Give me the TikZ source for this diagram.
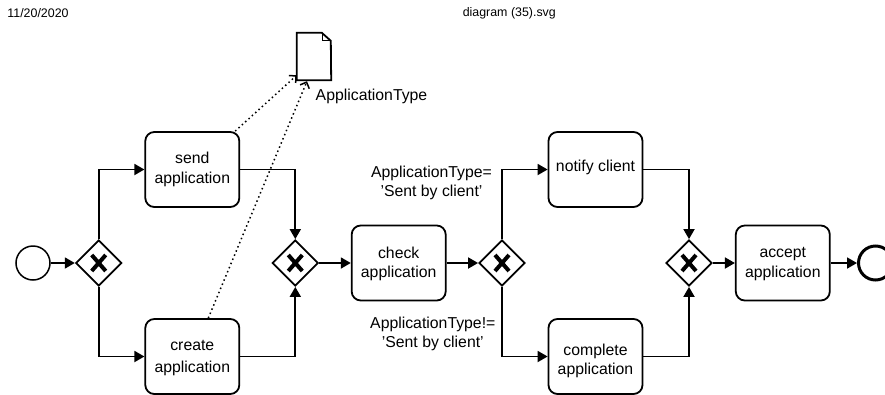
\documentclass[tikz,border=0pt]{standalone}
\usepackage{fontspec}
\setsansfont{Liberation Sans}
\usetikzlibrary{arrows.meta}
\usetikzlibrary{shapes.geometric}

\begin{document}
\begin{tikzpicture}[x = 1pt, y = -1pt, font=\sffamily\fontsize{15.8}{19}\selectfont, >={Triangle[length=10pt, width=11pt]}]
	\tikzstyle{taskStyle}=[shape = rectangle, rounded corners = 9pt, minimum width = 94pt, minimum height = 75pt, inner sep = 0pt, line width = 1.8pt, draw]
	\tikzstyle{gateStyle}=[shape = diamond, minimum size = 46pt, inner sep = 0pt, line width = 1.8pt, draw]
	\tikzstyle{flowStyle}=[line width = 1.8pt, ->]
	\tikzstyle{assocStyle}=[line width = 1.5pt, dash pattern = on 1.5pt off 3pt, -{Straight Barb[length=5pt, width=10pt]}]
	\tikzstyle{crossStyle}=[line width = 4pt]
	\tikzstyle{headStyle}=[inner sep = 0pt, font=\sffamily\fontsize{12.4}{14}\selectfont]
	\tikzstyle{noteStyle}=[inner sep = 0pt, align = center]
	\useasboundingbox (0, 0) rectangle (885, 394);
	\clip (0, 0) rectangle (885, 394);
	\node[headStyle] (h0) at (38, 13) {11/20/2020};
	\node[headStyle] (h1) at (509.3, 13) {diagram (35).svg};
	\node[shape = circle, minimum size = 34pt, inner sep = 0pt, line width = 1.5pt, draw] (s0) at (33, 263) {};
	\node[shape = circle, minimum size = 34pt, inner sep = 0pt, line width = 3pt, draw] (e0) at (875.5, 263) {};
	\node[gateStyle] (g0) at (98.7, 263) {};
	\node[gateStyle] (g1) at (295.3, 263) {};
	\node[gateStyle] (g2) at (502, 263) {};
	\node[gateStyle] (g3) at (689, 263) {};
	\node[taskStyle, label={[noteStyle, name = x0]center:{send\\[1pt]application}}] (t0) at (192.3, 169.5) {};
	\node[taskStyle, label={[noteStyle, name = x1, yshift = -2pt]center:{create\\[3pt]application}}] (t1) at (192.3, 356.5) {};
	\node[taskStyle, label={[noteStyle, name = x2, yshift = -1pt]center:{check\\application}}] (t2) at (398.7, 263) {};
	\node[taskStyle, label={[noteStyle, name = x3, yshift = 2pt]center:{notify client}}] (t3) at (595.5, 169.5) {};
	\node[taskStyle, label={[noteStyle, name = x4, yshift = -4pt]center:{complete\\application}}] (t4) at (595.5, 356.5) {};
	\node[taskStyle, label={[noteStyle, name = x5, yshift = -1pt]center:{accept\\[1pt]application}}] (t5) at (782.8, 263) {};
	\node[minimum width = 34pt, minimum height = 47pt, inner sep = 0pt] (d0) at (314, 56.5) {};
	\node[inner sep = 0pt] (l0) at (371.5, 96) {ApplicationType};
	\node[noteStyle] (l1) at (431.5, 182.5) {ApplicationType=\\'Sent by client'};
	\node[noteStyle] (l2) at (432.8, 334) {ApplicationType!=\\'Sent by client'};
	\draw[line width = 1.8pt] (d0.south west) -- (d0.north west) -- ++(25, 0) -- ++(9, 8) -- (d0.south east) -- cycle;
	\draw[line width = 1pt] (d0.north east) ++(-9, 0) -- ++(0, 8) -- ++(9, 0);
	\foreach \g in {g0, g1, g2, g3}
		\draw[crossStyle] (\g) ++(-7, -8) -- ++(14, 16) ++(0, -16) -- ++(-14, 16);
	\draw[flowStyle] (s0) -- (g0);
	\draw[flowStyle] (g0.north) |- (t0.west);
	\draw[flowStyle] (g0.south) |- (t1.west);
	\draw[flowStyle] (t0.east) -| (g1.north);
	\draw[flowStyle] (t1.east) -| (g1.south);
	\draw[flowStyle] (g1) -- (t2);
	\draw[flowStyle] (t2) -- (g2);
	\draw[flowStyle] (g2.north) |- (t3.west);
	\draw[flowStyle] (g2.south) |- (t4.west);
	\draw[flowStyle] (t3.east) -| (g3.north);
	\draw[flowStyle] (t4.east) -| (g3.south);
	\draw[flowStyle] (g3) -- (t5);
	\draw[flowStyle] (t5) -- (e0);
	\draw[assocStyle] ([xshift = -5pt]t0.north east) -- ([yshift = 5pt]d0.south west);
	\draw[assocStyle] ([xshift = 16pt]t1.north) -- ([xshift = -7pt, yshift = -1pt]d0.south);
\end{tikzpicture}
\end{document}
